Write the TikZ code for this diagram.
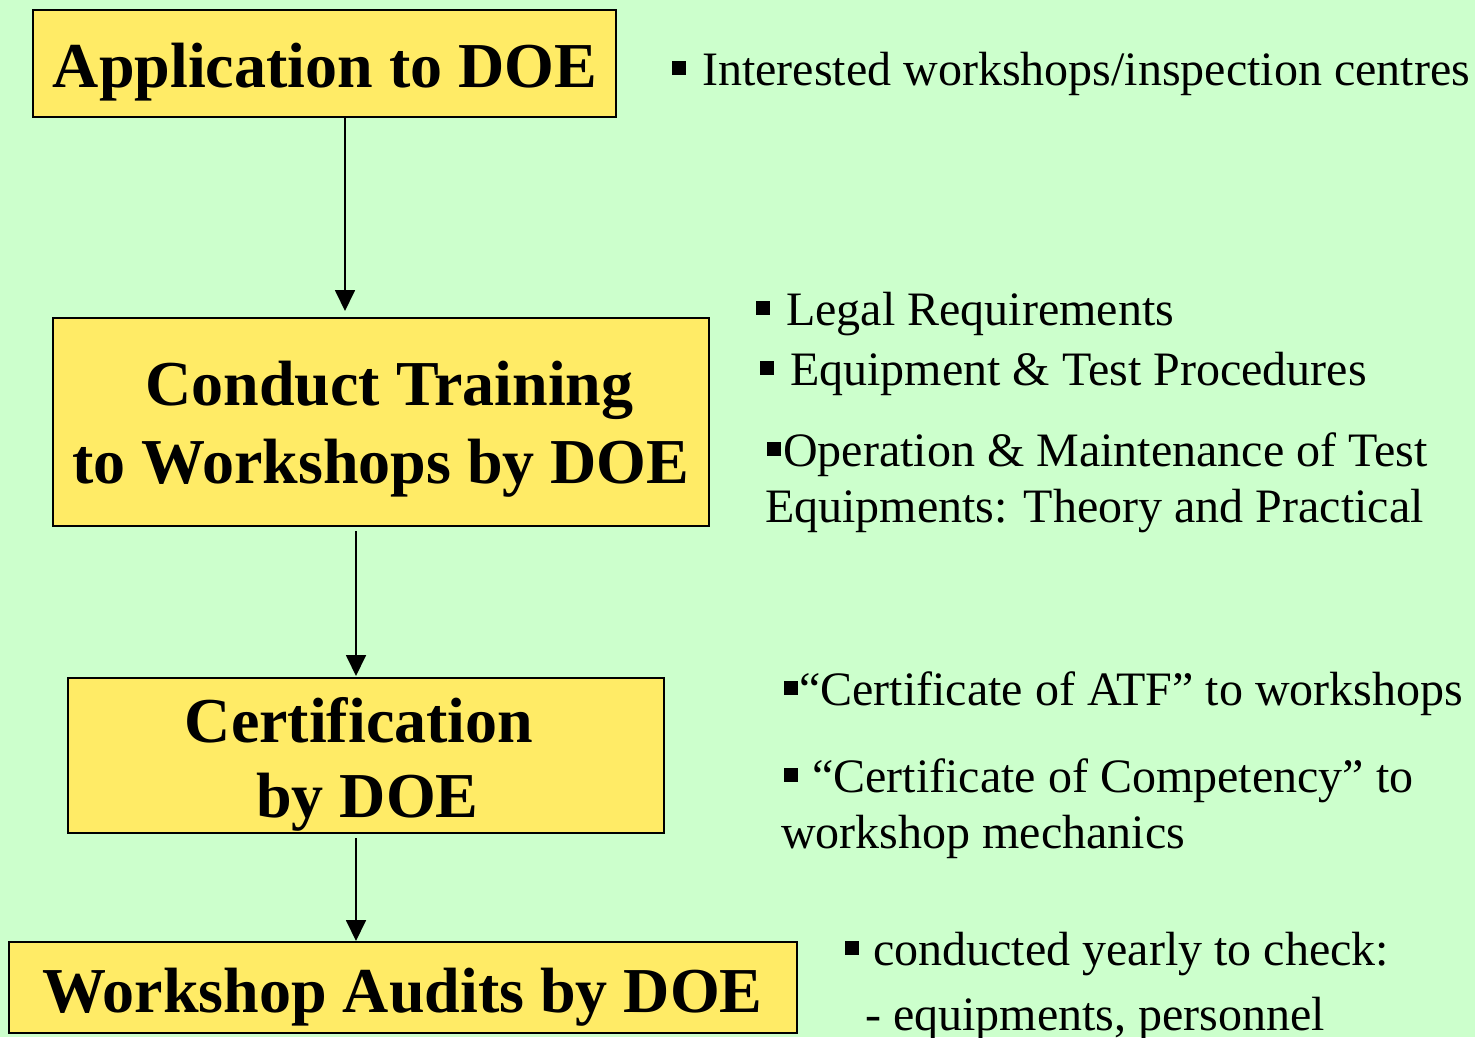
\documentclass[tikz,border=0pt]{standalone}
\usepackage{fontspec}
\setmainfont{Liberation Serif}
\usetikzlibrary{arrows.meta}
\definecolor{bg}{RGB}{204,255,204}
\definecolor{boxfill}{RGB}{255,235,102}
\newcommand{\sqb}{\rule[10pt]{14pt}{14pt}}
\tikzset{
  stepbox/.style={draw=black, line width=2pt, fill=boxfill, inner sep=0pt},
  boxtext/.style={anchor=base, inner sep=0pt, font=\fontsize{64}{78}\selectfont\bfseries},
  note/.style={anchor=base west, inner sep=0pt, font=\fontsize{48}{56}\selectfont},
  flow/.style={line width=1.8pt, -{Triangle[length=21pt,width=20pt]}}
}
\begin{document}
\begin{tikzpicture}[x=1pt,y=-1pt]
\fill[bg] (0,0) rectangle (1475,1037);
\useasboundingbox (0,0) rectangle (1475,1037);
\node[stepbox, minimum width=583pt, minimum height=107pt] (b1) at (324.5,63.5) {};
\node[stepbox, minimum width=656pt, minimum height=208pt] (b2) at (381,422) {};
\node[stepbox, minimum width=596pt, minimum height=155pt] (b3) at (366,755.5) {};
\node[stepbox, minimum width=788pt, minimum height=91pt] (b4) at (403,987.5) {};
\node[boxtext] (l1) at (325,87) {Application to DOE};
\node[boxtext] (l2a) at (389.5,405) {Conduct Training};
\node[boxtext] (l2b) at (381,483) {to Workshops by DOE};
\node[boxtext] (l3a) at (359,742) {Certification};
\node[boxtext] (l3b) at (367.5,817) {by DOE};
\node[boxtext] (l4) at (402.5,1012) {Workshop Audits by DOE};
\draw[flow, shorten >=6pt] (b1.south -| 345,0) -- (b2.north -| 345,0);
\draw[flow, shorten <=4pt, shorten >=1pt] (b2.south -| 356,0) -- (b3.north -| 356,0);
\draw[flow, shorten <=4pt] (b3.south -| 356,0) -- (b4.north -| 356,0);
\node[note] (t1) at (672,85) {\sqb\hspace{16pt}Interested workshops/inspection centres};
\node[note] (t2) at (756,325) {\sqb\hspace{16pt}Legal Requirements};
\node[note] (t3) at (760,385) {\sqb\hspace{16pt}Equipment \& Test Procedures};
\node[note] (t4) at (767,466) {\sqb\hspace{2pt}Operation \& Maintenance of Test};
\node[note] (t5) at (765,522) {Equipments: Theory and Practical};
\node[note] (t6) at (784,705) {\sqb\hspace{1pt}“Certificate of ATF” to workshops};
\node[note] (t7) at (784,792) {\sqb\hspace{14pt}“Certificate of Competency” to};
\node[note] (t8) at (781,848) {workshop mechanics};
\node[note] (t9) at (845,965) {\sqb\hspace{14pt}conducted yearly to check:};
\node[note] (t10) at (865,1030) {- equipments, personnel};
\end{tikzpicture}
\end{document}
